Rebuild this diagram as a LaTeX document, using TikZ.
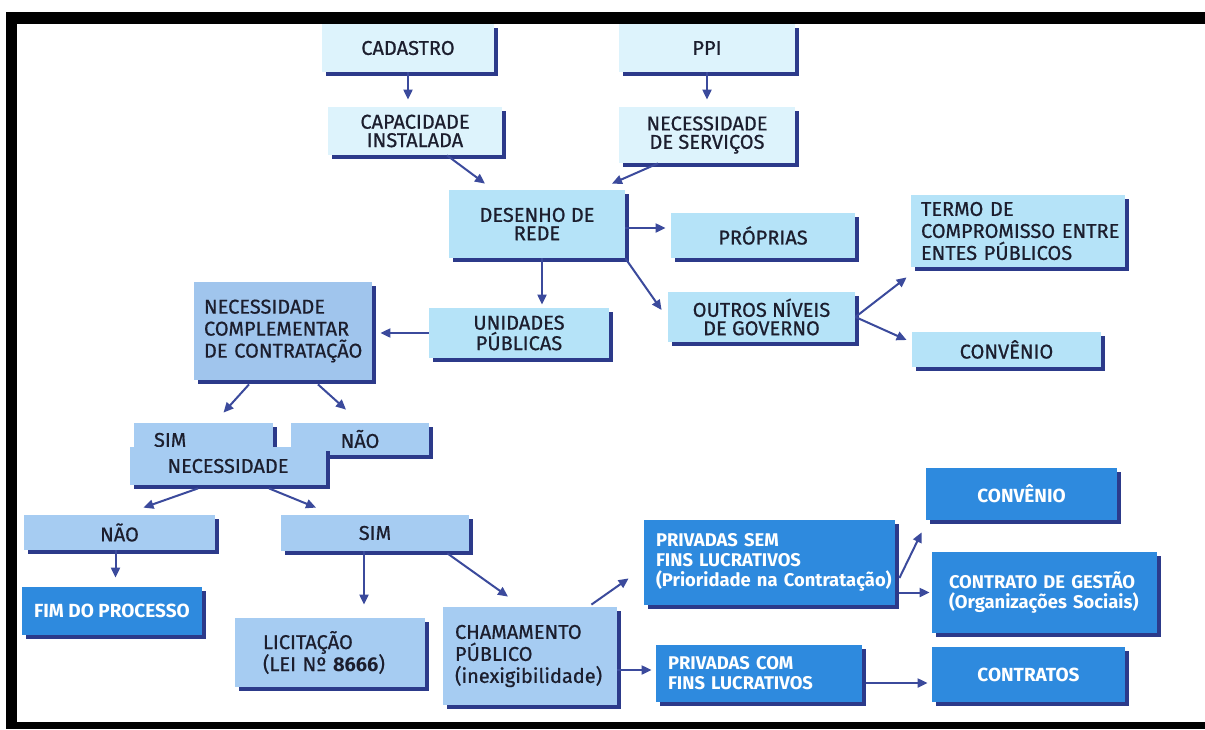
\documentclass[tikz,border=0pt]{standalone}
\usepackage{fontspec}
\setmainfont{Fira Sans}[UprightFeatures={FakeBold=0.7}]
\hyphenpenalty=10000
\usetikzlibrary{arrows.meta,shadows}
\definecolor{palecyan}{HTML}{DDF3FC}
\definecolor{lightblue}{HTML}{B5E3F8}
\definecolor{midblue}{HTML}{A6CCF2}
\definecolor{deepblue}{HTML}{2E8ADE}
\definecolor{navy}{HTML}{2C3A8A}
\definecolor{arrowblue}{HTML}{3B4A9C}
\definecolor{inkdark}{HTML}{1C1E2E}
\begin{document}
\begin{tikzpicture}[x=0.5pt,y=-0.5pt,
    box/.style={rectangle,inner xsep=6pt,inner ysep=2pt,text=inkdark,align=center,
      font=\fontsize{10}{9.2}\selectfont,
      drop shadow={shadow xshift=2pt,shadow yshift=-2pt,fill=navy,opacity=1}},
    pale/.style={box,fill=palecyan},
    light/.style={box,fill=lightblue},
    mid/.style={box,fill=midblue},
    dark/.style={box,fill=deepblue,text=white,font=\fontsize{9.5}{9.2}\selectfont\bfseries},
    lefttext/.style={align=left,text width=#1,font=\fontsize{10}{11}\selectfont},
    darkleft/.style={align=left,text width=#1,font=\fontsize{9.2}{10}\selectfont\bfseries},
    arr/.style={draw=arrowblue,line width=1pt,-{Triangle[length=5pt,width=4.5pt]}}]
  \useasboundingbox (0,0) rectangle (1205,729);
  \fill[white] (0,0) rectangle (1205,729);
  \node[pale,minimum width=86pt,minimum height=24pt] (cad) at (408,48) {CADASTRO};
  \node[pale,minimum width=87pt,minimum height=24pt] (cap) at (415,131) {CAPACIDADE\\INSTALADA};
  \node[pale,minimum width=88pt,minimum height=24pt] (ppi) at (707,48) {PPI};
  \node[pale,minimum width=88pt,minimum height=28pt] (nserv) at (707,135) {NECESSIDADE\\DE SERVIÇOS};
  \node[light,minimum width=88pt,minimum height=34pt] (rede) at (537,224) {DESENHO DE\\REDE};
  \node[light,minimum width=90pt,minimum height=25pt] (unid) at (519,333) {UNIDADES\\PÚBLICAS};
  \node[light,minimum width=92pt,minimum height=22.5pt] (prop) at (763,235.5) {PRÓPRIAS};
  \node[light,minimum width=93.5pt,minimum height=25pt] (outros) at (761.5,317) {OUTROS NÍVEIS\\DE GOVERNO};
  \node[light,lefttext=97pt,inner xsep=5pt,minimum height=36pt] (termo) at (1018,231) {TERMO DE\\COMPROMISSO~ENTRE\\ENTES PÚBLICOS};
  \node[light,minimum width=94.5pt,minimum height=17.5pt] (conv1) at (1006.5,349.5) {CONVÊNIO};
  \node[mid,lefttext=79pt,inner xsep=5pt,minimum height=49pt,fill=midblue!95!navy] (ncompl) at (283,331) {NECESSIDADE\\COMPLEMENTAR\\DE~CONTRATAÇÃO};
  \node[mid,lefttext=49.5pt,inner xsep=10pt,minimum height=17pt] (sim1) at (203.5,440) {SIM};
  \node[mid,minimum width=69pt,minimum height=16pt] (nao1) at (360,439) {NÃO};
  \node[mid,minimum width=98pt,minimum height=19pt] (nec) at (228,466) {NECESSIDADE};
  \node[mid,minimum width=95.5pt,minimum height=17.5pt] (nao2) at (119.5,532.5) {NÃO};
  \node[mid,minimum width=94pt,minimum height=18pt] (sim2) at (375,533) {SIM};
  \node[dark,minimum width=90pt,minimum height=24pt] (fim) at (112,611) {FIM DO PROCESSO};
  \node[mid,lefttext=67pt,inner xsep=14pt,minimum height=34.5pt] (lic) at (330,652.5) {LICITAÇÃO\\(LEI Nº \textbf{8666})};
  \node[mid,lefttext=75pt,minimum height=49pt] (cham) at (530,656) {CHAMAMENTO\\PÚBLICO\\(inexigibilidade)};
  \node[dark,darkleft=113.5pt,minimum height=42.5pt] (psem) at (769.5,562.5) {PRIVADAS SEM\\FINS LUCRATIVOS\\(Prioridade~na~Contratação)};
  \node[dark,minimum width=95.5pt,minimum height=26pt] (conv2) at (1021.5,494) {CONVÊNIO};
  \node[dark,darkleft=95.5pt,inner xsep=8.5pt,minimum height=40.5pt] (cgest) at (1044.5,592.5) {CONTRATO~DE~GESTÃO\\(Organizações~Sociais)};
  \node[dark,darkleft=91pt,minimum height=28.5pt] (pcom) at (759,673.5) {PRIVADAS COM\\FINS LUCRATIVOS};
  \node[dark,minimum width=96.5pt,minimum height=27.5pt] (ctr) at (1028.5,674.5) {CONTRATOS};
  \draw[arr,shorten >=3.5pt] (cad.south) -- (cad.south |- cap.north);
  \draw[arr,shorten >=3.5pt] (ppi.south) -- (ppi.south |- nserv.north);
  \draw[arr] ([xshift=16pt]cap.south) -- ([xshift=-26pt,yshift=3pt]rede.north);
  \draw[arr] ([xshift=-24.5pt]nserv.south) -- ([xshift=37.5pt,yshift=3pt]rede.north);
  \draw[arr,shorten >=1.5pt] ([xshift=2.5pt]rede.south) -- ([xshift=2.5pt]rede.south |- unid.north);
  \draw[arr,shorten >=2.5pt] ([yshift=-2pt]rede.east) -- ([yshift=-2pt]rede.east -| prop.west);
  \draw[arr] (rede.south east) -- ([xshift=-3pt,yshift=3.5pt]outros.west);
  \draw[arr] (outros.east) -- ([xshift=-2pt,yshift=-5pt]termo.south west);
  \draw[arr] (outros.east) -- ([xshift=-2.5pt,yshift=4.75pt]conv1.west);
  \draw[arr,shorten >=4pt] (unid.west) -- (unid.west -| ncompl.east);
  \draw[arr] ([xshift=-17pt,yshift=-2pt]ncompl.south) -- ([xshift=10pt,yshift=5pt]sim1.north);
  \draw[arr] ([xshift=17.5pt,yshift=-2pt]ncompl.south) -- ([xshift=-7pt,yshift=6.5pt]nao1.north);
  \draw[arr] ([xshift=-15pt,yshift=-1.5pt]nec.south) -- ([xshift=12pt,yshift=3.5pt]nao2.north);
  \draw[arr] ([xshift=20.5pt,yshift=-1.5pt]nec.south) -- ([xshift=-29.5pt,yshift=3.5pt]sim2.north);
  \draw[arr,shorten >=4.5pt] ([xshift=-2pt]nao2.south) -- ([xshift=-2pt]nao2.south |- fim.north);
  \draw[arr,shorten >=6.5pt] ([xshift=-5.5pt]sim2.south) -- ([xshift=-5.5pt]sim2.south |- lic.north);
  \draw[arr] ([xshift=-11pt,yshift=-1pt]sim2.south east) -- ([xshift=-11pt,yshift=5pt]cham.north);
  \draw[arr] ([xshift=-13pt,yshift=1pt]cham.north east) -- ([xshift=-7.5pt,yshift=13.5pt]psem.south west);
  \draw[arr,shorten >=2pt] ([yshift=-7pt]cham.east) -- ([yshift=-7pt]cham.east -| pcom.west);
  \draw[arr] ([xshift=2pt,yshift=-7.75pt]psem.east) -- ([xshift=-2pt,yshift=-6pt]conv2.south west);
  \draw[arr,shorten >=1pt] ([xshift=2pt,yshift=-15pt]psem.east) -- ([yshift=-15pt]psem.east -| cgest.west);
  \draw[arr,shorten >=2pt] ([xshift=2pt,yshift=-4.75pt]pcom.east) -- ([yshift=-4.75pt]pcom.east -| ctr.west);
  \fill[black] (6,12) rectangle (1205,24);
  \fill[black] (6,12) rectangle (17,729);
  \fill[black] (6,722) rectangle (1205,729);
\end{tikzpicture}
\end{document}
